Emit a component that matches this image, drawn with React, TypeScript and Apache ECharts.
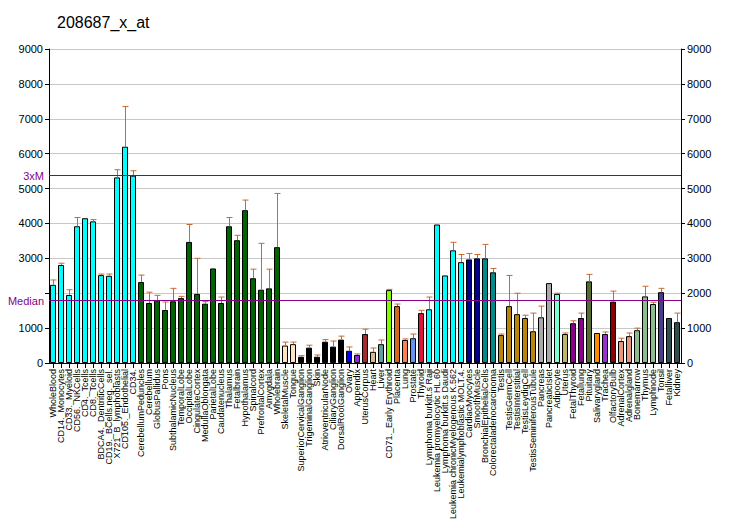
import React, { useEffect, useRef } from "react";
import * as echarts from "echarts";

const categories: string[] = [
  "WholeBlood", "CD14._Monocytes", "CD33._Myeloid", "CD56._NKCells", "CD4._Tcells", "CD8._Tcells",
  "BDCA4._DentriticCells", "CD19._BCells.neg._sel.", "X721_B_lymphoblasts", "CD105._Endothelial", "CD34.",
  "CerebellumPeduncles", "Cerebellum", "GlobusPallidus", "Pons", "SubthalamicNucleus", "TemporalLobe",
  "OccipitalLobe", "CingulateCortex", "MedullaOblongata", "ParietalLobe", "Caudatenucleus", "Thalamus",
  "Fetalbrain", "Hypothalamus", "Spinalcord", "PrefrontalCortex", "Amygdala", "Wholebrain",
  "SkeletalMuscle", "Tongue", "SuperiorCervicalGanglion", "TrigeminalGanglion", "Skin",
  "AtrioventricularNode", "CiliaryGanglion", "DorsalRootGanglion", "Ovary", "Appendix", "UterusCorpus",
  "Heart", "Liver", "CD71._Early Erythroid", "Placenta", "Lung", "Prostate", "Thyroid",
  "Lymphoma burkitt.s Raji", "Leukemia promyelocytic HL.60", "Lymphoma burkitt.s Daudi",
  "Leukemia chronicMyelogenous K.562", "Leukemialymphoblastic MOLT.4.", "CardiacMyocytes", "SmoothMuscle",
  "BronchialEpithelialCells", "Colorectaladenocarcinoma", "Testis", "TestisGermCell", "TestisInterstitial",
  "TestisLeydigCell", "TestisSeminiferousTubule", "Pancreas", "PancreaticIslet", "Adipocyte", "Uterus",
  "FetalThyroid", "Fetallung", "Pituitary", "Salivarygland", "Trachea", "OlfactoryBulb", "AdrenalCortex",
  "Adrenalgland", "Bonemarrow", "Thymus", "Lymphnode", "Tonsil", "Fetalliver", "Kidney",
];

const values: number[] = [
  2240, 2810, 1950, 3920, 4150, 4060, 2520, 2500, 5320, 6200, 5370,
  2320, 1720, 1800, 1520, 1770, 1860, 3470, 1980, 1700, 2710, 1720, 3920,
  3520, 4380, 2430, 2100, 2140, 3320,
  500, 540, 180, 440, 180, 610, 470, 670, 350, 230, 830,
  320, 540, 2090, 1630, 660, 710, 1430,
  1540, 3970, 2510, 3230, 2890, 2970, 3000,
  3000, 2600, 800, 1630, 1400, 1290, 910, 1310, 2290, 1980, 830,
  1140, 1290, 2340, 860, 830, 1760, 630, 770, 940, 1910, 1690, 2030, 1290, 1170,
];

const errorTops: number[] = [
  2380, 2860, 2100, 4170, 4150, 4110, 2550, 2550, 5540, 7350, 5510,
  2520, 2030, 1940, 1750, 2140, 1910, 3970, 3000, 1760, 2710, 1890, 4170,
  3660, 4670, 2690, 3430, 2690, 4860,
  600, 600, 210, 510, 230, 670, 630, 770, 460, 260, 970,
  430, 660, 2110, 1690, 690, 830, 1510,
  1890, 3970, 2510, 3460, 3110, 3140, 3110,
  3400, 2710, 830, 2510, 2000, 1370, 1430, 1630, 2290, 2000, 860,
  1210, 1430, 2540, 860, 890, 2060, 710, 860, 1000, 2200, 1740, 2140, 1290, 1430,
];

const barColors: string[] = [
  ...Array(11).fill("#00FFFF"),
  ...Array(18).fill("#006400"),
  "#FFE4C4", "#FFE4C4",
  ...Array(6).fill("#000000"),
  "#0000FF", "#8A2BE2", "#A52A2A", "#DEB887", "#5F9EA0", "#7FFF00", "#D2691E", "#FF7F50", "#6495ED", "#DC143C",
  ...Array(5).fill("#00FFFF"),
  "#00008B", "#00008B", "#008B8B", "#008B8B",
  ...Array(5).fill("#B8860B"),
  "#A9A9A9", "#A9A9A9", "#7FFFD4", "#BDB76B", "#8B008B", "#8B008B", "#556B2F", "#FF8C00", "#9932CC", "#8B0000",
  "#E9967A", "#E9967A", "#8FBC8F", "#8FBC8F", "#8FBC8F", "#483D8B", "#2F4F4F", "#2F4F4F",
];

const yTicks = { min: 0, max: 9000, interval: 1000 };
const hiddenLeftTicks: number[] = [2000];
const median = 1790;
const threeXM = 5370;

const FONT = "Liberation Sans, Arial, sans-serif";

export default function App() {
  const ref = useRef<HTMLDivElement>(null);
  useEffect(() => {
    if (!ref.current) return;
    const chart = echarts.init(ref.current, undefined, { renderer: "svg" });
    const yAxisBase = {
      type: "value",
      min: yTicks.min,
      max: yTicks.max,
      interval: yTicks.interval,
      axisLine: { show: true, lineStyle: { color: "#000", width: 1 } },
      axisTick: { show: true, length: 4, lineStyle: { color: "#000" } },
    };
    const labelBase = { color: "#000", fontSize: 11, fontFamily: FONT, margin: 6 };
    chart.setOption({
      animation: false,
      backgroundColor: "#fff",
      title: {
        text: "208687_x_at",
        left: 52,
        top: 9,
        textStyle: { fontSize: 16, fontWeight: "normal", color: "#000", fontFamily: FONT },
      },
      grid: { left: 49, right: 51, top: 49, bottom: 167, containLabel: false, outerBoundsMode: "none" },
      xAxis: {
        type: "category",
        data: categories,
        axisLine: { show: true, lineStyle: { color: "#000" } },
        axisTick: { show: true, alignWithLabel: true, length: 5, interval: 0, lineStyle: { color: "#000" } },
        axisLabel: { rotate: 90, interval: 0, fontSize: 9, color: "#000", fontFamily: FONT, margin: 6 },
        splitLine: { show: false },
      },
      yAxis: [
        {
          ...yAxisBase,
          position: "left",
          axisLabel: {
            ...labelBase,
            formatter: (v: number) => (hiddenLeftTicks.includes(v) ? "" : String(v)),
          },
          splitLine: { show: true, lineStyle: { color: "#c8c8c8", width: 1 } },
        },
        {
          ...yAxisBase,
          position: "right",
          axisLabel: { ...labelBase, formatter: (v: number) => String(v) },
          splitLine: { show: false },
        },
      ],
      series: [
        {
          type: "bar",
          data: values.map((v, i) => ({ value: v, itemStyle: { color: barColors[i] } })),
          barWidth: 6,
          itemStyle: { borderColor: "#000", borderWidth: 1 },
          markLine: {
            silent: true,
            symbol: "none",
            lineStyle: { color: "#880088", width: 1, type: "solid" },
            label: { position: "start", color: "#880088", fontSize: 11, fontFamily: FONT, distance: 5 },
            data: [
              { yAxis: threeXM, label: { formatter: "3xM" } },
              { yAxis: median, label: { formatter: "Median" } },
            ],
          },
          z: 2,
        },
        {
          type: "custom",
          data: values.map((v, i) => [i, v, errorTops[i]]),
          z: 3,
          renderItem: (params: any, api: any) => {
            const idx = api.value(0);
            const v = api.value(1);
            const e = api.value(2);
            if (!(e > v)) return null;
            const p0 = api.coord([idx, v]);
            const p1 = api.coord([idx, e]);
            const x = Math.round(p0[0]) + 0.5;
            const style = { stroke: "#C8692E", lineWidth: 1 };
            return {
              type: "group",
              children: [
                { type: "line", shape: { x1: x, y1: p0[1], x2: x, y2: p1[1] }, style },
                { type: "line", shape: { x1: x - 3, y1: p1[1], x2: x + 3, y2: p1[1] }, style },
              ],
            };
          },
        },
      ],
    });
    return () => chart.dispose();
  }, []);
  return <div ref={ref} style={{ width: 732, height: 530, position: "absolute", left: 0, top: 0 }} />;
}
